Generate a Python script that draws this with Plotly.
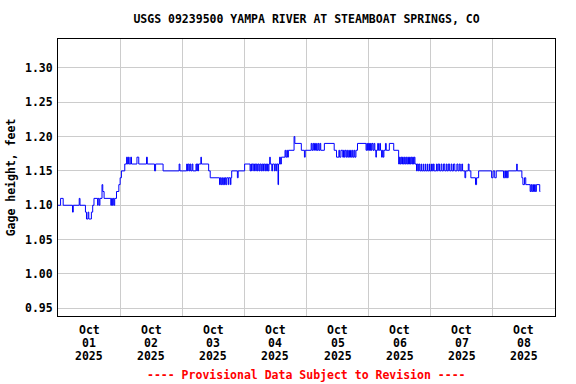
import pandas as pd
import plotly.graph_objects as go

# ---- data: change points (hours after 2025-10-01 00:00 MDT) and gage height (ft)
t_hr = [
    0.0, 1.0, 2.0, 5.6, 5.9, 8.2, 8.5, 10.6, 11.0, 11.6, 11.9, 12.9, 13.4, 13.9,
    15.3, 15.5, 15.9, 16.2, 17.0, 17.3, 17.8, 20.4, 20.7, 21.0, 21.3, 21.6, 21.9,
    22.6, 23.5, 24.0, 24.5,
    25.8, 26.5, 26.8, 27.2, 27.5, 28.1, 28.4, 30.5, 31.2, 34.2, 34.5, 37.3, 37.7,
    40.6, 46.8, 47.1,
    49.7, 50.0, 50.3, 50.7, 51.0, 51.3, 51.8, 52.1, 53.3, 53.6, 53.8, 54.1, 54.3,
    55.2, 55.4, 58.2, 58.8, 62.4, 62.7, 63.0, 63.3, 63.6, 64.0, 64.3, 64.6, 64.9,
    65.2, 65.8, 66.0, 66.6, 66.8, 67.1, 69.3, 69.6,
    72.1, 74.2, 74.5, 74.8, 75.0, 75.6, 75.9, 76.4, 76.6, 77.0, 77.3, 77.7, 78.0,
    78.4, 78.7, 79.1, 79.4, 79.9, 80.2, 80.6, 80.9, 81.2, 81.5, 81.8, 82.0, 82.6,
    82.9, 83.6, 83.9, 84.3, 84.5, 85.0, 85.2, 85.6, 85.9, 86.3, 87.7, 88.0, 88.4,
    88.7, 89.0, 91.2, 91.5, 94.0, 95.2, 95.5,
    97.8, 98.1, 98.5, 98.8, 99.1, 99.5, 99.9, 100.1, 100.5, 100.8, 101.2, 101.5,
    102.9, 106.7, 107.6, 108.5, 108.8, 109.3, 110.0, 110.3, 110.6, 110.9, 111.3,
    111.6, 111.9, 112.3, 112.6, 113.0, 113.3, 113.7, 114.0, 114.4, 114.7, 115.1,
    115.7, 119.0, 119.3, 119.6, 119.9,
    120.2, 120.4, 120.6, 120.8, 121.0, 121.3, 121.7, 122.1, 122.4, 122.8, 123.0,
    123.5, 123.8, 124.3, 124.6, 125.0, 125.3, 125.6, 125.9, 126.5, 126.8, 128.0,
    129.7, 131.6, 131.9, 132.2, 132.5, 132.8, 133.1, 133.4, 133.8, 134.1, 134.4,
    134.7, 135.1, 135.4, 135.8, 136.1, 136.4, 136.7, 137.0, 137.3, 137.6, 137.9,
    138.5, 138.8, 139.2, 139.5, 139.8, 140.3, 140.5, 141.1, 141.3, 141.9, 142.1,
    142.7, 142.9, 143.5, 143.7,
    144.3, 144.6, 145.0, 145.3, 146.2, 146.5, 146.9, 147.4, 148.0, 148.3, 148.9,
    149.4, 150.0, 150.3, 150.8, 151.3, 151.9, 152.2, 152.8, 153.3, 154.1, 154.5,
    155.0, 155.4, 156.0, 156.3, 157.2, 157.5, 158.5, 158.8, 159.5, 161.3, 161.7,
    162.5, 167.5,
    168.1, 168.7, 169.3, 172.1, 172.6, 172.9, 173.3, 173.6, 173.9, 177.2, 177.4,
    179.2, 179.6, 180.2, 180.7, 182.4, 182.7, 183.0, 183.4, 183.7, 184.1, 184.4,
    184.8, 186.1, 186.3,
]
gage_ft = [
    1.10, 1.11, 1.10, 1.09, 1.10, 1.11, 1.10, 1.09, 1.08, 1.09, 1.08, 1.09, 1.10, 1.11,
    1.10, 1.11, 1.10, 1.11, 1.13, 1.12, 1.11, 1.10, 1.11, 1.10, 1.11, 1.10, 1.11,
    1.12, 1.13, 1.14, 1.15,
    1.16, 1.17, 1.16, 1.17, 1.16, 1.17, 1.16, 1.17, 1.16, 1.17, 1.16, 1.15, 1.16,
    1.15, 1.16, 1.15,
    1.16, 1.15, 1.16, 1.15, 1.16, 1.15, 1.16, 1.15, 1.16, 1.15, 1.16, 1.15, 1.16,
    1.17, 1.16, 1.15, 1.14, 1.13, 1.14, 1.13, 1.14, 1.13, 1.14, 1.13, 1.14, 1.13,
    1.14, 1.13, 1.14, 1.13, 1.14, 1.15, 1.14, 1.15,
    1.16, 1.15, 1.16, 1.15, 1.16, 1.15, 1.16, 1.15, 1.16, 1.15, 1.16, 1.15, 1.16,
    1.15, 1.16, 1.15, 1.16, 1.15, 1.16, 1.15, 1.16, 1.15, 1.16, 1.17, 1.16, 1.15,
    1.16, 1.15, 1.16, 1.15, 1.16, 1.13, 1.16, 1.17, 1.16, 1.17, 1.18, 1.17, 1.18,
    1.17, 1.18, 1.20, 1.19, 1.18, 1.17, 1.18,
    1.19, 1.18, 1.19, 1.18, 1.19, 1.18, 1.19, 1.18, 1.19, 1.18, 1.19, 1.18,
    1.19, 1.18, 1.17, 1.18, 1.17, 1.18, 1.17, 1.18, 1.17, 1.18, 1.17,
    1.18, 1.17, 1.18, 1.17, 1.18, 1.17, 1.18, 1.17, 1.18, 1.17, 1.18,
    1.19, 1.18, 1.19, 1.18, 1.19,
    1.18, 1.19, 1.18, 1.19, 1.18, 1.19, 1.18, 1.19, 1.18, 1.17, 1.18,
    1.19, 1.18, 1.19, 1.18, 1.17, 1.18, 1.17, 1.18, 1.19, 1.18, 1.19,
    1.18, 1.16, 1.17, 1.16, 1.17, 1.16, 1.17, 1.16, 1.17, 1.16, 1.17,
    1.16, 1.17, 1.16, 1.17, 1.16, 1.17, 1.16, 1.17, 1.16, 1.17, 1.16,
    1.15, 1.16, 1.15, 1.16, 1.15, 1.16, 1.15, 1.16, 1.15, 1.16, 1.15,
    1.16, 1.15, 1.16, 1.15,
    1.16, 1.15, 1.16, 1.15, 1.16, 1.15, 1.16, 1.15, 1.16, 1.15, 1.16,
    1.15, 1.16, 1.15, 1.16, 1.15, 1.16, 1.15, 1.16, 1.15, 1.16, 1.15,
    1.16, 1.15, 1.16, 1.15, 1.14, 1.15, 1.16, 1.15, 1.14, 1.13, 1.14,
    1.15, 1.14,
    1.15, 1.14, 1.15, 1.14, 1.15, 1.14, 1.15, 1.14, 1.15, 1.16, 1.15,
    1.14, 1.13, 1.14, 1.13, 1.12, 1.13, 1.12, 1.13, 1.12, 1.13, 1.12,
    1.13, 1.12, 1.12,
]

day_ticks = ["2025-10-01", "2025-10-02", "2025-10-03", "2025-10-04",
             "2025-10-05", "2025-10-06", "2025-10-07", "2025-10-08"]
month_labels = ["Oct"] * 8
day_labels = ["01", "02", "03", "04", "05", "06", "07", "08"]
year_labels = ["2025"] * 8
y_ticks = [0.95, 1.00, 1.05, 1.10, 1.15, 1.20, 1.25, 1.30]

title_text = "USGS 09239500 YAMPA RIVER AT STEAMBOAT SPRINGS, CO"
y_title = "Gage height, feet"
note_text = "---- Provisional Data Subject to Revision ----"

start = pd.Timestamp("2025-10-01 00:00")
times = [start + pd.Timedelta(hours=h) for h in t_hr]
noon = [pd.Timestamp(d) + pd.Timedelta(hours=12) for d in day_ticks]
midnights = [pd.Timestamp(d) for d in day_ticks] + [pd.Timestamp("2025-10-09")]

FONT = "DejaVu Sans Mono"
grid = "#cccccc"
W, H = 576, 384
ML, MR, MT, MB = 58, 21, 39, 68
PH = H - MT - MB


def fnt(color="black", size=11.5):
    return dict(family=FONT, size=size, color=color, weight="bold")


def paper_y(px):
    # pixel row from top of image -> paper coordinate
    return (H - MB - px) / PH


fig = go.Figure()
fig.add_trace(go.Scatter(x=times, y=gage_ft, mode="lines",
                         line=dict(color="#0000ff", width=1, shape="hv"),
                         hoverinfo="skip", showlegend=False))

annotations = []
for rows_px, labels in ((330, month_labels), (343, day_labels), (356, year_labels)):
    for xv, lab in zip(noon, labels):
        annotations.append(dict(text=lab, x=xv, xref="x", y=paper_y(rows_px), yref="paper",
                                xanchor="center", yanchor="middle", showarrow=False,
                                font=fnt()))
annotations.append(dict(text=note_text, xref="paper", yref="paper", x=0.5, y=paper_y(375),
                        xanchor="center", yanchor="middle", showarrow=False,
                        font=fnt("red")))

fig.update_layout(
    width=W, height=H,
    margin=dict(l=ML, r=MR, t=MT, b=MB, autoexpand=False),
    paper_bgcolor="white", plot_bgcolor="white",
    font=fnt(),
    title=dict(text=title_text, x=0.5, xref="paper", y=1 - 19 / H,
               yref="container", xanchor="center", yanchor="middle",
               automargin=False, font=fnt()),
    xaxis=dict(range=[midnights[0], midnights[-1]], automargin=False,
               tickmode="array", tickvals=midnights, showticklabels=False,
               showgrid=True, gridcolor=grid, gridwidth=1, ticks="", zeroline=False,
               showline=True, linecolor="black", linewidth=1, mirror=True),
    yaxis=dict(range=[0.9388, 1.342], automargin=False, tickmode="array", tickvals=y_ticks,
               tickformat=".2f", showgrid=True, gridcolor=grid, gridwidth=1,
               ticks="", zeroline=False, ticklabelstandoff=2,
               showline=True, linecolor="black", linewidth=1, mirror=True,
               tickfont=fnt(),
               title=dict(text=y_title, standoff=6, font=fnt())),
    annotations=annotations,
)

fig.write_html("out.html", config={"displayModeBar": False, "staticPlot": True},
               post_script="document.body.style.margin='0';document.body.style.overflow='hidden';")
